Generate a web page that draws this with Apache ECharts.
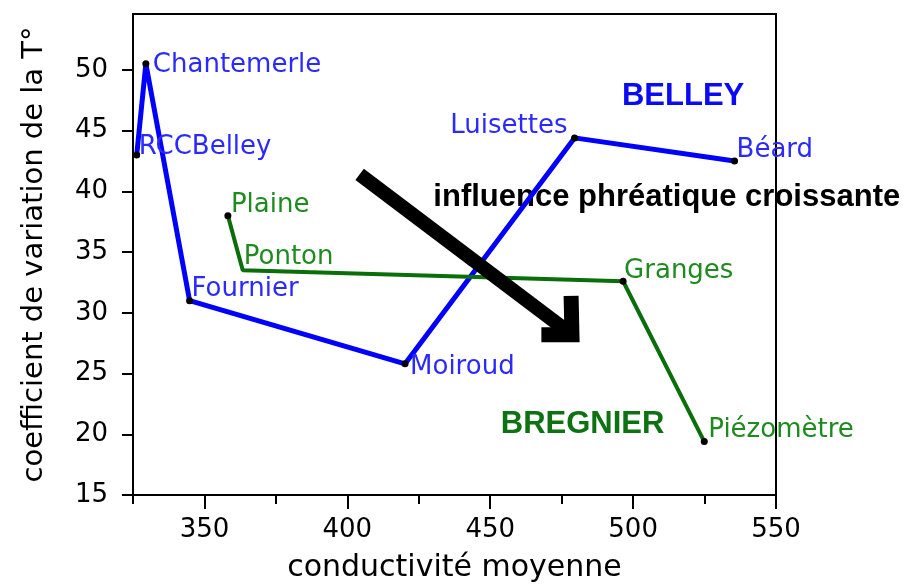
<!DOCTYPE html>
<html>
<head>
<meta charset="utf-8">
<script src="https://cdn.jsdelivr.net/npm/echarts@6/dist/echarts.min.js"></script>
<style>
  html, body { margin: 0; padding: 0; background: #fff; }
  #chart { width: 919px; height: 584px; }
</style>
</head>
<body>
<div id="chart"></div>
<script>
// BELLEY stations (blue), in the drawing order of the line
const belleyNames = ['RCCBelley', 'Chantemerle', 'Fournier', 'Moiroud', 'Luisettes', 'Béard'];
const belleyCond = [326.3, 329.5, 344.8, 420.2, 479.5, 535.5];
const belleyCv = [43.0, 50.5, 31.0, 25.8, 44.4, 42.5];

// BREGNIER stations (green)
const bregnierNames = ['Plaine', 'Ponton', 'Granges', 'Piézomètre'];
const bregnierCond = [358.2, 363.4, 496.5, 524.9];
const bregnierCv = [38.0, 33.5, 32.6, 19.4];

// free text on the plot, anchored in data units (left edge, middle)
const noteTexts = ['BELLEY', 'BREGNIER', 'influence phréatique croissante'];
const noteCond = [496.1, 453.7, 430.1];
const noteCv = [47.8, 20.8, 39.5];

// big arrow: shaft then open head
const arrowShaft = [[404.3, 41.4], [478.6, 28.2]];
const arrowHead = [[478.3, 31.4], [478.6, 28.2], [467.9, 28.2]];

const xTickLabels = [350, 400, 450, 500, 550];
const xMinorTicks = [325, 375, 425, 475, 525];
const yTickLabels = [15, 20, 25, 30, 35, 40, 45, 50];

// label placement (dx, dy from the point, in pixels)
const labelPlace = {
  RCCBelley: { side: 'right', dx: 2, dy: -8 },
  Chantemerle: { side: 'right', dx: 7, dy: 1 },
  Fournier: { side: 'right', dx: 2, dy: -11 },
  Moiroud: { side: 'right', dx: 5, dy: 3 },
  Luisettes: { side: 'left', dx: -7, dy: -12 },
  'Béard': { side: 'right', dx: 2, dy: -11 },
  Plaine: { side: 'right', dx: 3, dy: -10 },
  Ponton: { side: 'right', dx: 1, dy: -13 },
  Granges: { side: 'right', dx: 1, dy: -10 },
  'Piézomètre': { side: 'right', dx: 4, dy: -11 }
};
const noDot = ['Ponton'];

const DOT = 7;

function stationData(names, xs, ys) {
  return names.map(function (n, i) {
    const p = labelPlace[n];
    return {
      name: n,
      value: [xs[i], ys[i]],
      itemStyle: noDot.indexOf(n) >= 0 ? { color: 'rgba(0,0,0,0)' } : undefined,
      label: {
        position: p.side,
        distance: 0,
        align: p.side === 'left' ? 'right' : 'left',
        offset: [p.side === 'left' ? p.dx + DOT / 2 : p.dx - DOT / 2, p.dy]
      }
    };
  });
}

function stationSeries(name, data, lineColor, textColor, lineWidth) {
  return {
    name: name,
    type: 'line',
    z: 2,
    data: data,
    symbol: 'circle',
    symbolSize: DOT,
    showAllSymbol: true,
    itemStyle: { color: '#000' },
    lineStyle: { color: lineColor, width: lineWidth },
    label: {
      show: true,
      formatter: '{b}',
      color: textColor,
      fontFamily: 'DejaVu Sans',
      fontSize: 26,
      verticalAlign: 'middle'
    },
    emphasis: { disabled: true },
    animation: false
  };
}

const noteColors = ['#0a0af5', '#0f7212', '#000'];

const chart = echarts.init(document.getElementById('chart'));
chart.setOption({
  backgroundColor: '#fff',
  animation: false,
  grid: {
    left: 133, right: 143, top: 14, bottom: 89,
    show: true, borderColor: '#000', borderWidth: 2,
    outerBoundsMode: 'none'
  },
  xAxis: [
    {
      // data axis, short ticks at the odd 25s
      type: 'value',
      min: 325,
      max: 550,
      axisLine: { lineStyle: { color: '#000', width: 2 } },
      axisTick: { length: 9, customValues: xMinorTicks, lineStyle: { color: '#000', width: 2 } },
      axisLabel: { show: false },
      splitLine: { show: false }
    },
    {
      // same scale, long ticks and labels
      type: 'value',
      position: 'bottom',
      min: 325,
      max: 550,
      axisLine: { show: false },
      axisTick: { length: 14, customValues: xTickLabels, lineStyle: { color: '#000', width: 2 } },
      axisLabel: {
        customValues: xTickLabels,
        margin: 22,
        color: '#000',
        fontFamily: 'DejaVu Sans',
        fontSize: 26
      },
      splitLine: { show: false },
      name: 'conductivité moyenne',
      nameLocation: 'middle',
      nameGap: 58,
      nameTextStyle: { color: '#000', fontFamily: 'DejaVu Sans', fontSize: 30 }
    }
  ],
  yAxis: {
    type: 'value',
    min: 15,
    max: 54.6,
    axisLine: { lineStyle: { color: '#000', width: 2 } },
    axisTick: { length: 11, customValues: yTickLabels, lineStyle: { color: '#000', width: 2 } },
    axisLabel: {
      customValues: yTickLabels,
      margin: 25,
      color: '#000',
      fontFamily: 'DejaVu Sans',
      fontSize: 26
    },
    splitLine: { show: false },
    name: 'coefficient de variation de la T°',
    nameLocation: 'middle',
    nameGap: 84,
    nameTextStyle: { color: '#000', fontFamily: 'DejaVu Sans', fontSize: 29 }
  },
  series: [
    {
      name: 'notes',
      type: 'scatter',
      z: 1,
      symbolSize: 0,
      silent: true,
      itemStyle: { opacity: 1 },
      data: noteTexts.map(function (t, i) {
        return {
          name: t,
          value: [noteCond[i], noteCv[i]],
          label: { color: noteColors[i] }
        };
      }),
      label: {
        show: true,
        position: 'inside',
        align: 'left',
        verticalAlign: 'middle',
        formatter: '{b}',
        fontFamily: 'Liberation Sans',
        fontWeight: 'bold',
        fontSize: 31
      }
    },
    stationSeries('BELLEY', stationData(belleyNames, belleyCond, belleyCv), '#0000ff', '#2a2aff', 5),
    stationSeries('BREGNIER', stationData(bregnierNames, bregnierCond, bregnierCv), '#0a6e0a', '#1f8a1f', 4),
    {
      name: 'arrowShaft',
      type: 'line',
      z: 3,
      silent: true,
      symbol: 'none',
      data: arrowShaft,
      lineStyle: { color: '#000', width: 14, cap: 'butt' }
    },
    {
      name: 'arrowHead',
      type: 'line',
      z: 3,
      silent: true,
      symbol: 'none',
      data: arrowHead,
      lineStyle: { color: '#000', width: 15, cap: 'butt', join: 'miter' }
    }
  ]
});
</script>
</body>
</html>
